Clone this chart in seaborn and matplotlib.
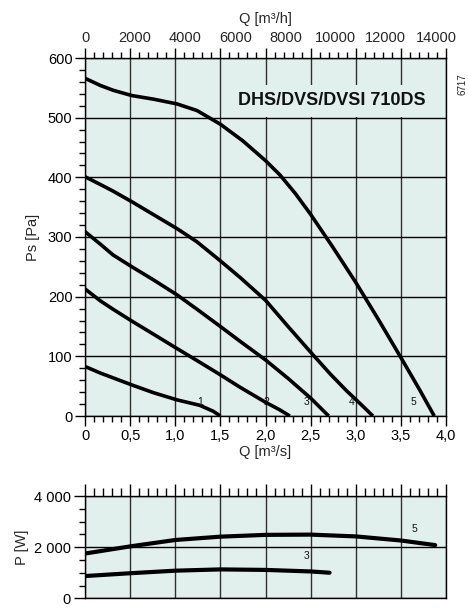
import numpy as np
import pandas as pd
import matplotlib
matplotlib.use("Agg")
import matplotlib.pyplot as plt
from matplotlib.ticker import FixedLocator, MultipleLocator, FixedFormatter
import seaborn as sns

# ---------------- data ----------------
c1_q = [0, 0.17, 0.52, 0.76, 1.02, 1.27, 1.42, 1.5]
c1_p = [83, 72, 52, 39, 27, 18, 8, 0]
c2_q = [0, 0.17, 0.31, 0.52, 0.76, 1.02, 1.24, 1.5, 1.72, 2.0, 2.15, 2.27]
c2_p = [213, 193, 179, 159, 137, 113, 93, 69, 48, 23, 11, 0]
c3_q = [0, 0.17, 0.31, 0.52, 0.76, 1.02, 1.24, 1.5, 1.72, 2.0, 2.25, 2.5, 2.7]
c3_p = [309, 288, 270, 250, 228, 203, 179, 150, 125, 94, 63, 30, 0]
c4_q = [0, 0.17, 0.31, 0.52, 1.02, 1.24, 1.5, 1.72, 2.0, 2.25, 2.5, 2.72, 2.9, 3.02, 3.19]
c4_p = [401, 388, 377, 359, 314, 292, 260, 232, 194, 150, 107, 70, 42, 25, 0]
c5_q = [0, 0.17, 0.31, 0.52, 0.76, 1.02, 1.24, 1.5, 1.75, 2.0, 2.16, 2.33, 2.5,
        2.75, 3.0, 3.25, 3.5, 3.7, 3.87]
c5_p = [566, 554, 546, 537, 531, 523, 512, 489, 461, 428, 404, 373, 338,
        282, 224, 162, 98, 46, 0]

pw3_q = [0, 0.5, 1.0, 1.5, 2.0, 2.5, 2.71]
pw3_w = [870, 980, 1080, 1130, 1110, 1050, 1000]
pw5_q = [0, 0.5, 1.0, 1.5, 2.0, 2.5, 3.0, 3.5, 3.88]
pw5_w = [1750, 2030, 2280, 2410, 2480, 2490, 2420, 2260, 2080]

curve_names = ["1", "2", "3", "4", "5"]
curve_label_q = [1.28, 2.01, 2.45, 2.95, 3.64]
curve_label_p = [24, 24, 24, 24, 24]
power_names = ["3", "5"]
power_label_q = [2.46, 3.65]
power_label_w = [1650, 2700]

bottom_ticks = [0, 0.5, 1.0, 1.5, 2.0, 2.5, 3.0, 3.5, 4.0]
bottom_labels = ["0", "0,5", "1,0", "1,5", "2,0", "2,5", "3,0", "3,5", "4,0"]
top_ticks = [0, 2000, 4000, 6000, 8000, 10000, 12000, 14000]
ps_ticks = [0, 100, 200, 300, 400, 500, 600]
pw_ticks = [0, 2000, 4000]
pw_labels = ["0", "2 000", "4 000"]

title = "DHS/DVS/DVSI 710DS"
code = "6717"

# ---------------- styling ----------------
sns.set_theme(style="white")
plt.rcParams['font.family'] = ['Liberation Sans', 'DejaVu Sans']
BG = "#e2f0ed"
LW = 2.6

fig = plt.figure(figsize=(4.68, 6.14), dpi=100)
ax = fig.add_axes([85/468, (614-416)/614, (446-85)/468, (416-58)/614])
axp = fig.add_axes([85/468, (614-598.3)/614, (446-85)/468, (598.3-496)/614])

main_df = pd.concat([
    pd.DataFrame({"Q": q, "Ps": p, "curve": n})
    for q, p, n in zip([c1_q, c2_q, c3_q, c4_q, c5_q],
                       [c1_p, c2_p, c3_p, c4_p, c5_p], curve_names)
])
pw_df = pd.concat([
    pd.DataFrame({"Q": q, "P": w, "curve": n})
    for q, w, n in zip([pw3_q, pw5_q], [pw3_w, pw5_w], power_names)
])

for a in (ax, axp):
    a.set_facecolor(BG)
    for s in a.spines.values():
        s.set_color("black")
        s.set_linewidth(1.0)
        s.set_visible(True)

# main curves
for n in curve_names:
    d = main_df[main_df.curve == n]
    sns.lineplot(data=d, x="Q", y="Ps", ax=ax, color="black", lw=LW,
                 sort=False, legend=False, estimator=None,
                 solid_joinstyle="round", solid_capstyle="butt")
for n, xq, yp in zip(curve_names, curve_label_q, curve_label_p):
    ax.text(xq, yp, n, fontsize=7.5, ha="center", va="center", color="#111")

ax.set_xlim(0, 4)
ax.set_ylim(0, 600)
ax.xaxis.set_major_locator(FixedLocator(bottom_ticks))
ax.xaxis.set_major_formatter(FixedFormatter(bottom_labels))
ax.xaxis.set_minor_locator(MultipleLocator(0.1))
ax.yaxis.set_major_locator(FixedLocator(ps_ticks))
ax.yaxis.set_minor_locator(MultipleLocator(20))
ax.tick_params(axis="both", which="major", direction="out", length=7, width=1,
               color="black", labelsize=10.5, pad=2, labelcolor="black")
ax.tick_params(axis="both", which="minor", direction="out", length=4.5, width=1,
               color="black")
ax.tick_params(axis="x", which="both", top=True, bottom=True, labeltop=False)
ax.tick_params(axis="y", which="both", left=True)
ax.grid(True, which="major", axis="y", color="black", lw=1.0)
ax.grid(True, which="major", axis="x", color="#303030", lw=1.0)
ax.set_axisbelow(True)
ax.set_xlabel("Q [m³/s]", fontsize=10.5, labelpad=2)
ax.set_ylabel("Ps [Pa]", fontsize=10.5, labelpad=6)

sec = ax.secondary_xaxis("top", functions=(lambda x: x * 3600.0, lambda x: x / 3600.0))
sec.xaxis.set_major_locator(FixedLocator(top_ticks))
sec.tick_params(axis="x", which="both", length=0, labelsize=10.5, pad=9)
sec.xaxis.set_minor_locator(FixedLocator([]))
sec.spines["top"].set_visible(False)
sec.set_xlabel("Q [m³/h]", fontsize=10.5, labelpad=6)

ax.text(2.73, 528, title, fontsize=13, fontweight="bold", ha="center",
        va="center", color="#111",
        bbox=dict(boxstyle="square,pad=0.42", facecolor=BG, edgecolor="none"),
        zorder=3)
fig.text(462/468, 1 - 84/614, code, rotation=90, fontsize=7, ha="center",
         va="center", color="#222")

# power plot
for n in power_names:
    d = pw_df[pw_df.curve == n]
    sns.lineplot(data=d, x="Q", y="P", ax=axp, color="black", lw=LW + 0.4,
                 sort=False, legend=False, estimator=None,
                 solid_joinstyle="round")
for n, xq, yw in zip(power_names, power_label_q, power_label_w):
    axp.text(xq, yw, n, fontsize=7.5, ha="center", va="center", color="#111")
axp.set_xlim(0, 4)
axp.set_ylim(0, 4000)
axp.xaxis.set_major_locator(FixedLocator(bottom_ticks))
axp.xaxis.set_minor_locator(MultipleLocator(0.1))
axp.yaxis.set_major_locator(FixedLocator(pw_ticks))
axp.yaxis.set_major_formatter(FixedFormatter(pw_labels))
axp.yaxis.set_minor_locator(MultipleLocator(500))
axp.tick_params(axis="x", which="both", bottom=False, labelbottom=False,
                top=True, direction="out", color="black", width=1)
axp.tick_params(axis="x", which="major", length=9)
axp.tick_params(axis="x", which="minor", length=5.5)
axp.tick_params(axis="y", which="major", left=True, direction="out", length=8,
                width=1, color="black", labelsize=10.5, pad=2, labelcolor="black")
axp.tick_params(axis="y", which="minor", left=True, direction="out", length=4.5,
                width=1, color="black")
axp.grid(True, which="major", axis="y", color="black", lw=1.0)
axp.grid(True, which="major", axis="x", color="#303030", lw=1.0)
axp.set_axisbelow(True)
axp.set_xlabel("")
axp.set_ylabel("P [W]", fontsize=10.5, labelpad=4)

fig.savefig("out.png", dpi=100)
